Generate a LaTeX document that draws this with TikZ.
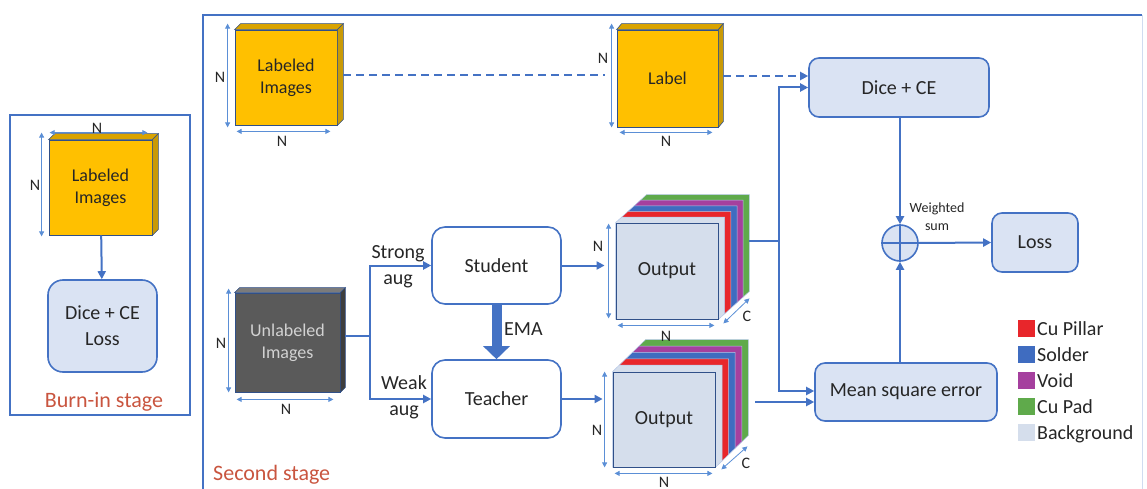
\documentclass[tikz,border=0pt]{standalone}
\usepackage{fontspec}
\setmainfont{Carlito}
\usetikzlibrary{arrows.meta,calc,backgrounds}
\definecolor{bdr}{HTML}{4472C4}
\definecolor{dimc}{HTML}{5B8FD6}
\definecolor{boxfill}{HTML}{DAE3F3}
\definecolor{gold}{HTML}{FFC000}
\definecolor{goldside}{HTML}{C99A06}
\definecolor{darkcube}{HTML}{5A5A5A}
\definecolor{darkside}{HTML}{3E3E3E}
\definecolor{stagered}{HTML}{C9553F}
\definecolor{lpillar}{HTML}{E8262B}
\definecolor{lsolder}{HTML}{3F6CC0}
\definecolor{lvoid}{HTML}{A5409E}
\definecolor{lpad}{HTML}{5FAA4B}
\definecolor{lbg}{HTML}{D5DEEC}
\definecolor{txt}{HTML}{262626}
\newcommand{\cubesides}[5]{%
  \filldraw[fill=#4,draw=bdr!70!black,line width=0.6pt] (#1.north west) -- ($(#1.north west)+(#2,#3)$) -- ($(#1.north east)+(#2,#3)$) -- (#1.north east) -- cycle;
  \filldraw[fill=#5,draw=bdr!70!black,line width=0.6pt] (#1.north east) -- ($(#1.north east)+(#2,#3)$) -- ($(#1.south east)+(#2,#3)$) -- (#1.south east) -- cycle;}
\newcommand{\outstack}[3]{%
  \begin{pgfonlayer}{background}
  \foreach \k/\j/\c in {5/4/lpad,4/3/lvoid,3/2/lsolder,2/1/lpillar,1/0/lbg}{
    \filldraw[fill=\c,draw=white!60!bdr,line width=0.5pt]
      ($(#1.north west)+\j*(#2,#3)$) -- ($(#1.north west)+\k*(#2,#3)$) --
      ($(#1.north east)+\k*(#2,#3)$) -- ($(#1.south east)+\k*(#2,#3)$) --
      ($(#1.south east)+\j*(#2,#3)$) -- ($(#1.south west)+\j*(#2,#3)$) -- cycle;
  }
  \end{pgfonlayer}}
\begin{document}
\begin{tikzpicture}[x=1pt,y=-1pt,
  every node/.style={font=\fontsize{20}{26}\selectfont, inner sep=0pt, text=txt},
  rbox/.style={draw=bdr, line width=1.6pt, fill=boxfill, rounded corners=10pt, align=center},
  wbox/.style={draw=bdr, line width=1.6pt, fill=white, rounded corners=13pt, align=center},
  face/.style={draw=bdr!70!black, line width=0.8pt, align=center},
  conn/.style={draw=bdr, line width=2pt, -{Triangle[length=8pt,width=8pt]}},
  wire/.style={draw=bdr, line width=2pt},
  dashline/.style={draw=bdr, line width=2pt, dash pattern=on 8pt off 5pt},
  dimarr/.style={draw=dimc, line width=0.8pt, {Triangle[length=5pt,width=5pt]}-{Triangle[length=5pt,width=5pt]}},
  dimlbl/.style={font=\fontsize{16}{18}\selectfont},
  frame/.style={draw=bdr, line width=1.4pt},
  redlbl/.style={text=stagered, font=\fontsize{22}{24}\selectfont},
]
\useasboundingbox (0,0) rectangle (1147,489);

% ---------------- Burn-in stage ----------------
\draw[frame] (10,115) rectangle (190,415);
\node[face, fill=gold, minimum width=103pt, minimum height=95pt, font=\fontsize{18}{22}\selectfont] (bl) at (100.5,187.5) {Labeled\\Images};
\cubesides{bl}{6}{-6}{gold!85!black}{goldside}
\draw[dimarr] ([xshift=-7pt,yshift=7pt]bl.north west) -- ([xshift=-7pt,yshift=-1pt]bl.south west);
\draw[dimarr] ([xshift=1pt,yshift=7pt]bl.north west) -- ([xshift=-5pt,yshift=7pt]bl.north east);
\node[dimlbl] (blv) at (35,185) {N};
\node[dimlbl] (blh) at (97,128) {N};
\node[rbox, minimum width=109pt, minimum height=92pt, rounded corners=15pt] (bd) at (102.5,326) {Dice + CE\\Loss};
\draw[conn] (bl) -- (bd);
\node[redlbl] (bs) at (104,402) {Burn-in stage};

% ---------------- Second stage frame ----------------
\draw[frame] (203,495) -- (203,15) -- (1142,15);
\draw[draw=bdr!25, line width=1pt] (1142,15) -- (1142,489);
\node[redlbl, anchor=west] (ss) at (213,475) {Second stage};

% Labeled images
\node[face, fill=gold, minimum width=102pt, minimum height=95pt, font=\fontsize{18}{22}\selectfont] (li) at (286,77.5) {Labeled\\Images};
\cubesides{li}{6}{-6}{gold!85!black}{goldside}
\draw[dimarr] ([xshift=-7pt,yshift=6pt]li.north west) -- ([xshift=-7pt,yshift=-2pt]li.south west);
\draw[dimarr] ([xshift=2pt,yshift=-6pt]li.south west) -- ([xshift=-7pt,yshift=-6pt]li.south east);
\node[dimlbl] (liv) at (220,77) {N};
\node[dimlbl] (lih) at (282,141) {N};

% Label
\node[face, fill=gold, minimum width=101pt, minimum height=97pt, font=\fontsize{18}{22}\selectfont] (lab) at (667.5,78.5) {Label};
\cubesides{lab}{5}{-6}{gold!85!black}{goldside}
\draw[dimarr] ([xshift=-5pt,yshift=6pt]lab.north west) -- ([xshift=-5pt]lab.south west);
\draw[dimarr] ([xshift=3pt,yshift=-5pt]lab.south west) -- ([xshift=-6pt,yshift=-5pt]lab.south east);
\node[dimlbl] (labv) at (603,58) {N};
\node[dimlbl] (labh) at (666,141) {N};

\draw[dashline] ([xshift=6pt,yshift=2.5pt]li.east) -- ([xshift=-12pt,yshift=2.5pt]li.east -| lab.west);

% Dice + CE
\node[rbox, minimum width=180pt, minimum height=59pt] (dice) at (899,87.5) {Dice + CE};
\draw[dashline, -{Triangle[length=8pt,width=8pt]}] ([xshift=5pt,yshift=2.5pt]lab.east) -- ([yshift=2.5pt]lab.east -| dice.west);

% Unlabeled
\node[face, fill=darkcube, text=gray!35, minimum width=105pt, minimum height=99pt, font=\fontsize{18}{22}\selectfont] (ul) at (287.5,342.5) {Unlabeled\\Images};
\cubesides{ul}{5}{-5}{darkcube!80!white}{darkside}
\draw[dimarr] ([xshift=-6pt,yshift=4pt]ul.north west) -- ([xshift=-6pt]ul.south west);
\draw[dimarr] ([xshift=2pt,yshift=-7pt]ul.south west) -- ([xshift=-7pt,yshift=-7pt]ul.south east);
\node[dimlbl] (ulv) at (221,343) {N};
\node[dimlbl] (ulh) at (286,409) {N};

% Student / Teacher
\node[wbox, minimum width=129pt, minimum height=77pt] (st) at (496.5,265.5) {Student};
\node[wbox, minimum width=129pt, minimum height=78pt] (te) at (496.5,399) {Teacher};
\coordinate (br) at (370,336);
\draw[wire] ([xshift=5pt]ul.east |- br) -- (br);
\draw[conn] (br) |- (st.west);
\draw[conn] (br) |- (te.west);
\node[align=center] (strong) at (398,266.5) {Strong\\aug};
\node[align=center] (weak) at (404,397.5) {Weak\\aug};
\draw[draw=bdr, line width=10pt, -{Triangle[length=13pt,width=26pt]}] (st.south) -- (te.north);
\node[anchor=west] (ema) at (504,329) {EMA};

% Outputs
\node[face, fill=lbg, minimum width=102pt, minimum height=96pt] (o1) at (667,271) {Output};
\outstack{o1}{6.2}{-5.6}
\node[face, fill=lbg, minimum width=102pt, minimum height=95pt] (o2) at (664,419.5) {Output};
\outstack{o2}{6.6}{-6.4}
\draw[dimarr] ([xshift=-7pt,yshift=-1pt]o1.north west) -- ([xshift=-7pt,yshift=1pt]o1.south west);
\draw[dimarr] ([xshift=2pt,yshift=-6pt]o1.south west) -- ([xshift=-4pt,yshift=-6pt]o1.south east);
\draw[dimarr] ([xshift=5pt,yshift=-4pt]o1.south east) -- ([xshift=31pt,yshift=21pt]o1.south east);
\node[dimlbl] (o1v) at (598,246) {N};
\node[dimlbl] (o1h) at (666,336) {N};
\node[dimlbl] (o1c) at (747,316) {C};
\draw[dimarr] ([xshift=-8pt]o2.north west) -- ([xshift=-8pt]o2.south west);
\draw[dimarr] ([xshift=2pt,yshift=-6pt]o2.south west) -- ([xshift=-3pt,yshift=-6pt]o2.south east);
\draw[dimarr] ([xshift=6pt,yshift=-2pt]o2.south east) -- ([xshift=32pt,yshift=21pt]o2.south east);
\node[dimlbl] (o2v) at (597,430) {N};
\node[dimlbl] (o2h) at (664,482) {N};
\node[dimlbl] (o2c) at (746,463) {C};
\draw[conn] (st.east) -- ([xshift=-11pt]st.east -| o1.west);
\draw[conn] (te.east) -- ([xshift=-10pt]te.east -| o2.west);

% Right part
\node[rbox, minimum width=182pt, minimum height=58pt] (mse) at (906,392) {Mean square error};
\node[rbox, minimum width=86pt, minimum height=59pt] (loss) at (1035,242.5) {Loss};
\node[circle, draw=bdr, line width=1.6pt, fill=boxfill, minimum size=36pt] (ws) at (900,243) {};
\draw[draw=bdr, line width=1.4pt] (ws.north) -- (ws.south) (ws.west) -- (ws.east);
\node[align=center, font=\fontsize{14}{18}\selectfont] (wsl) at (937,217) {Weighted\\sum};

\coordinate (bus) at (779,241);
\coordinate (o1r) at ($(o1.east)+(31,-30)$);
\coordinate (o2r) at ($(o2.east)+(40,-17.5)$);
\draw[wire] (o1r) -- (bus);
\draw[conn] (bus) |- (dice.west);
\draw[conn] (bus) |- ([yshift=1pt]mse.west);
\draw[conn] (o2r) -- (o2r -| mse.west);
\draw[conn] (dice.south -| ws) -- (ws.north);
\draw[conn] (mse.north -| ws) -- (ws.south);
\draw[conn] (ws.east) -- (loss.west);

% Legend
\foreach \c/\t/\y in {lpillar/Cu Pillar/328, lsolder/Solder/354, lvoid/Void/380, lpad/Cu Pad/406, lbg/Background/432}{
  \node[fill=\c, minimum width=17pt, minimum height=17pt] (sq\y) at (1026,\y) {};
  \node[anchor=base west] (lt\y) at (1037,\y+7.5) {\t};
}
\end{tikzpicture}
\end{document}
